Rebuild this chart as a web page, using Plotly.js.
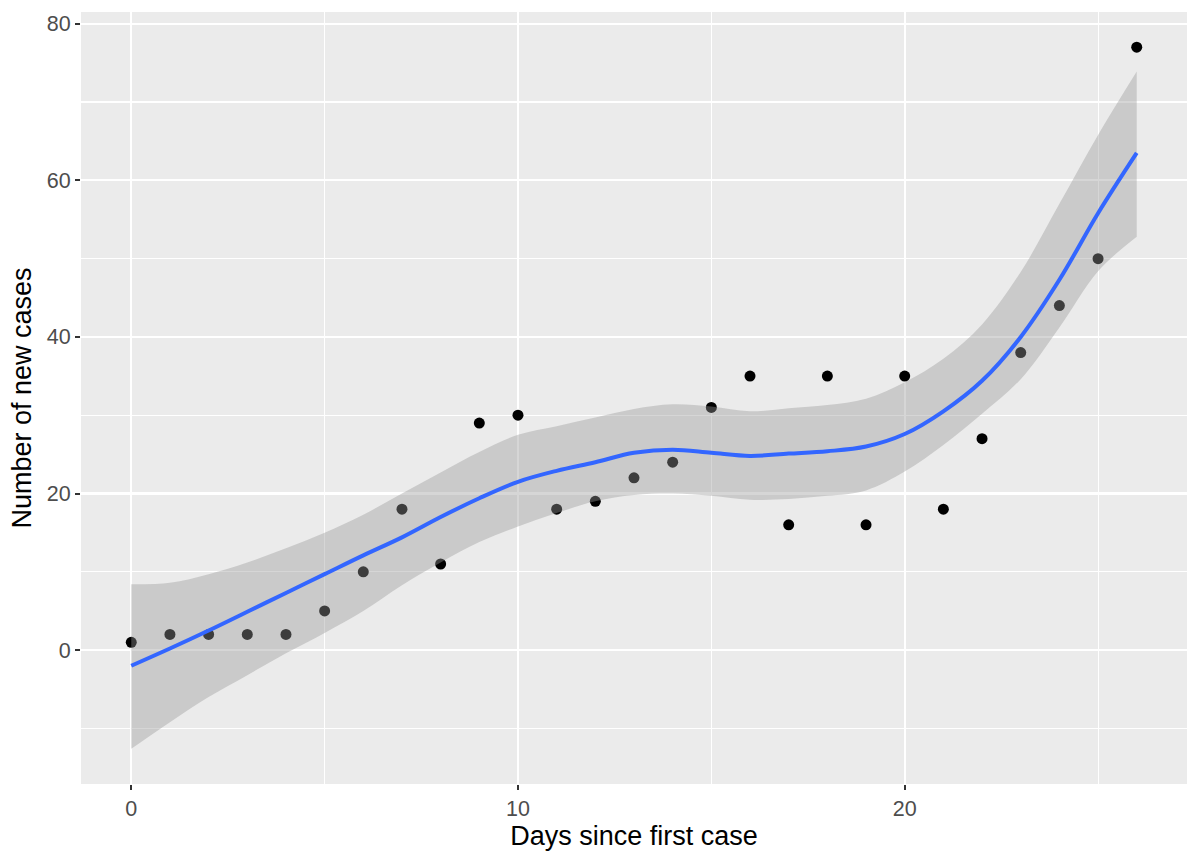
<!DOCTYPE html>
<html>
<head>
<meta charset="utf-8">
<script src="https://cdn.plot.ly/plotly-3.0.1.min.js"></script>
<style>
html,body{margin:0;padding:0;background:#fff;}
#chart{width:1200px;height:862px;}
</style>
</head>
<body>
<div id="chart"></div>
<script>
// Observed data
const days = [0,1,2,3,4,5,6,7,8,9,10,11,12,13,14,15,16,17,18,19,20,21,22,23,24,25,26];
const newCases = [1,2,2,2,2,5,10,18,11,29,30,18,19,22,24,31,35,16,35,16,35,18,27,38,44,50,77];

// Loess smooth
const smoothX = [0,1,2,3,4,5,6,7,8,9,10,11,12,13,14,15,16,17,18,19,20,21,22,23,24,25,26];
const smoothFit = [-2.0,0.2,2.5,4.9,7.3,9.7,12.1,14.4,17.0,19.4,21.5,22.9,24.0,25.2,25.6,25.2,24.8,25.1,25.4,26.0,27.6,30.5,34.4,40.0,47.3,55.8,63.5];
const smoothUpper = [8.4,8.6,9.7,11.2,13.0,15.0,17.3,20.0,22.7,25.3,27.5,28.6,29.7,30.8,31.4,31.1,30.5,30.9,31.3,32.1,34.2,37.2,41.6,48.3,57.0,65.8,73.9];
const smoothLower = [-12.6,-9.2,-6.0,-3.2,-0.4,2.2,5.0,8.3,11.2,13.8,15.8,17.5,19.0,19.8,20.0,19.7,19.2,19.3,19.7,20.4,22.8,26.2,30.2,34.6,41.2,48.4,52.8];

const xTitle = "Days since first case";
const yTitle = "Number of new cases";

const fontFam = "Liberation Sans, Arial, Helvetica, sans-serif";

const traces = [
  {
    x: days, y: newCases, type: "scatter", mode: "markers",
    marker: {color: "#000000", size: 11},
    hoverinfo: "skip", showlegend: false
  },
  {
    x: smoothX, y: smoothLower, type: "scatter", mode: "lines",
    line: {width: 0, shape: "spline", smoothing: 1},
    hoverinfo: "skip", showlegend: false
  },
  {
    x: smoothX, y: smoothUpper, type: "scatter", mode: "lines",
    line: {width: 0, shape: "spline", smoothing: 1},
    fill: "tonexty", fillcolor: "rgba(153,153,153,0.4)",
    hoverinfo: "skip", showlegend: false
  },
  {
    x: smoothX, y: smoothFit, type: "scatter", mode: "lines",
    line: {color: "#3366FF", width: 4, shape: "spline", smoothing: 1},
    hoverinfo: "skip", showlegend: false
  }
];

const layout = {
  width: 1200, height: 862,
  margin: {l: 81, r: 13, t: 12, b: 78},
  paper_bgcolor: "#FFFFFF",
  plot_bgcolor: "#EBEBEB",
  font: {family: fontFam, color: "#000000"},
  showlegend: false,
  xaxis: {
    range: [-1.3, 27.3],
    tickmode: "linear", tick0: 0, dtick: 10,
    showgrid: true, gridcolor: "#FFFFFF", gridwidth: 2.2,
    minor: {dtick: 5, showgrid: true, gridcolor: "#FFFFFF", gridwidth: 1.1, ticks: ""},
    zeroline: false, showline: false,
    ticks: "outside", ticklen: 5, tickwidth: 2, tickcolor: "#333333",
    tickfont: {size: 21.5, color: "#4D4D4D", family: fontFam},
    title: {text: xTitle, font: {size: 27, color: "#000000", family: fontFam}, standoff: 6},
    automargin: false
  },
  yaxis: {
    range: [-17.1, 81.5],
    tickmode: "linear", tick0: 0, dtick: 20,
    showgrid: true, gridcolor: "#FFFFFF", gridwidth: 2.2,
    minor: {dtick: 10, showgrid: true, gridcolor: "#FFFFFF", gridwidth: 1.1, ticks: ""},
    zeroline: false, showline: false,
    ticks: "outside", ticklen: 5, tickwidth: 2, tickcolor: "#333333",
    tickfont: {size: 21.5, color: "#4D4D4D", family: fontFam},
    title: {text: yTitle, font: {size: 27, color: "#000000", family: fontFam}, standoff: 7},
    automargin: false
  }
};

Plotly.newPlot("chart", traces, layout, {displayModeBar: false, staticPlot: true});
</script>
</body>
</html>
